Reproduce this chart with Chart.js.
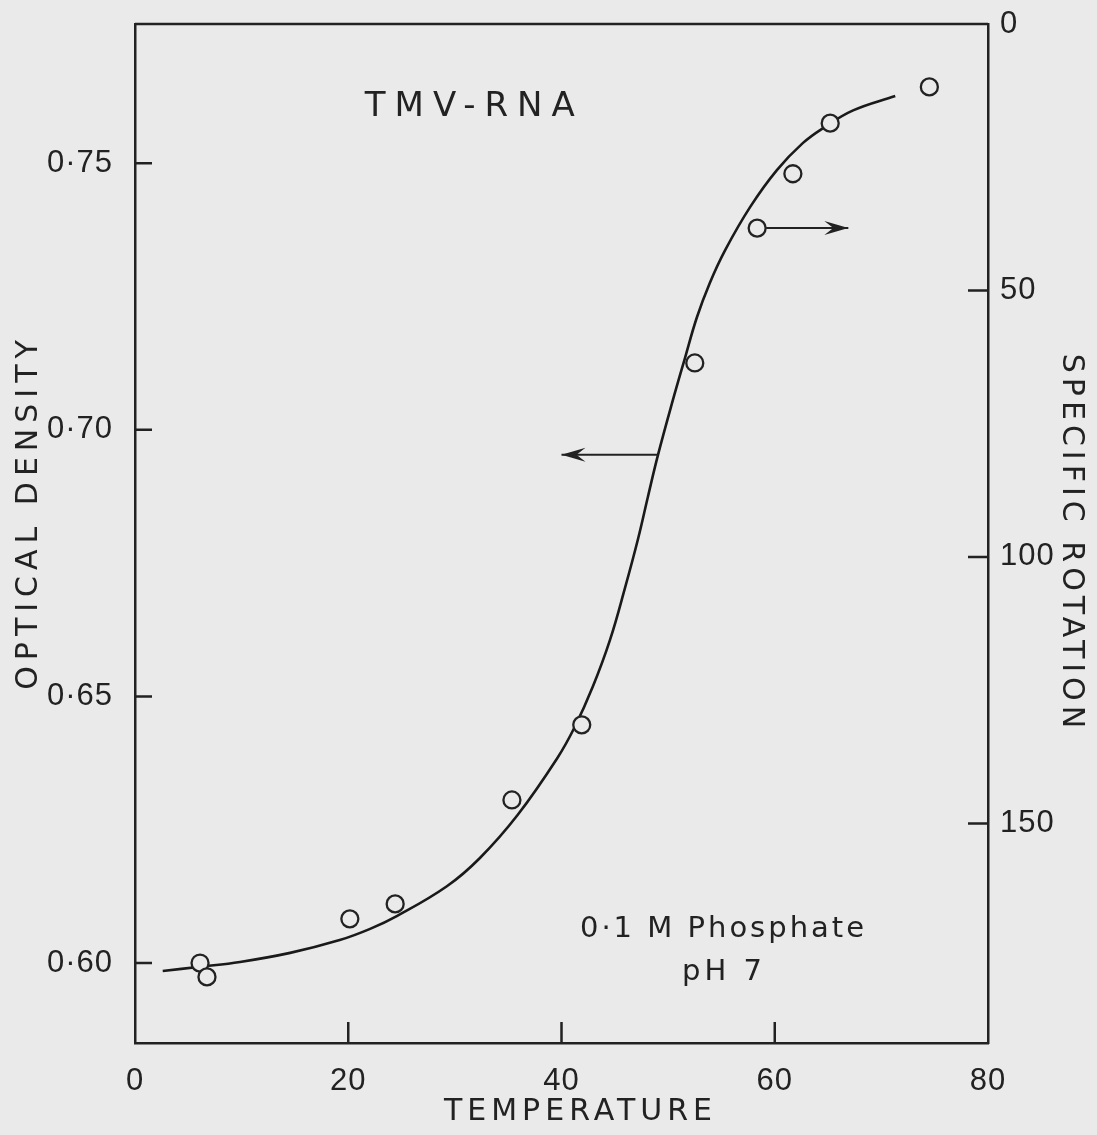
<!DOCTYPE html>
<html>
<head>
<meta charset="utf-8">
<title>TMV-RNA</title>
<script src="https://cdn.jsdelivr.net/npm/chart.js@4.4.1/dist/chart.umd.min.js"></script>
<style>
    html, body { margin: 0; padding: 0; background: #eaeaea; }
    #wrap { width: 1097px; height: 1135px; }
</style>
</head>
<body>
<div id="wrap"><canvas id="chart"></canvas></div>
<script>
// specific rotation readings (open circles, right axis)
const rotTemps = [6.1, 6.75, 20.15, 24.4, 35.35, 41.9, 52.5, 58.35, 61.7, 65.2, 74.5];
const rotValues = [176.2, 178.8, 167.9, 165.1, 145.6, 131.5, 63.6, 38.3, 28.1, 18.6, 11.8];

// optical density curve (left axis)
const curveTemps = [2.6, 6.1, 9.85, 14.55, 19.2, 22.05, 24.55, 29.25, 32.35, 35.9, 39.6, 41.25,
    42.95, 44.55, 45.95, 47.2, 48.1, 49.05, 50.45, 51.6, 52.7, 53.9, 55.35, 57.7, 60.2, 62.65,
    64.55, 67.35, 71.3];
const curveOD = [0.5985, 0.5993, 0.6002, 0.6019, 0.6043, 0.6064, 0.6088, 0.6144, 0.6197, 0.6278,
    0.6384, 0.6443, 0.6519, 0.6606, 0.6703, 0.6797, 0.6874, 0.6953, 0.7056, 0.7136, 0.7211,
    0.7275, 0.7337, 0.7418, 0.7487, 0.7538, 0.7566, 0.7599, 0.7626];

const tempTicks = [0, 20, 40, 60, 80];
const odTicks = [0.60, 0.65, 0.70, 0.75];
const rotTicks = [0, 50, 100, 150];

const INK = "#222";
const BG = "#eaeaea";
const FONT = '"DejaVu Sans", sans-serif';
const TICK_FONT = '"Liberation Sans", Arial, sans-serif';

function toPoints(xs, ys) {
    return xs.map((x, i) => ({ x: x, y: ys[i] }));
}

function label(ctx, text, px, py, size, spacing, rot) {
    ctx.save();
    ctx.translate(px, py);
    if (rot) ctx.rotate(rot);
    ctx.font = size + "px " + FONT;
    ctx.letterSpacing = spacing + "px";
    ctx.textAlign = "center";
    ctx.textBaseline = "middle";
    ctx.fillStyle = INK;
    ctx.fillText(text, spacing / 2, 0);
    ctx.restore();
}

function arrow(ctx, x1, y1, x2, y2) {
    const ang = Math.atan2(y2 - y1, x2 - x1);
    ctx.save();
    ctx.lineWidth = 2;
    ctx.beginPath();
    ctx.moveTo(x1, y1);
    ctx.lineTo(x2, y2);
    ctx.stroke();
    ctx.translate(x2, y2);
    ctx.rotate(ang);
    ctx.beginPath();
    ctx.moveTo(0, 0);
    ctx.lineTo(-24, -7);
    ctx.lineTo(-15, 0);
    ctx.lineTo(-24, 7);
    ctx.closePath();
    ctx.fill();
    ctx.restore();
}

const frame = {
    id: "frame",
    beforeDraw(chart) {
        chart.ctx.letterSpacing = "1px";
    },
    afterDraw(chart) {
        const { ctx, chartArea: a, scales } = chart;
        const { x, y, y2 } = scales;
        ctx.save();
        ctx.letterSpacing = "0px";
        ctx.strokeStyle = INK;
        ctx.fillStyle = INK;
        ctx.lineWidth = 2.5;

        // top border
        ctx.beginPath();
        ctx.moveTo(a.left, a.top);
        ctx.lineTo(a.right, a.top);
        ctx.stroke();

        // inward tick marks
        ctx.beginPath();
        odTicks.forEach((v) => {
            const py = y.getPixelForValue(v);
            ctx.moveTo(a.left, py);
            ctx.lineTo(a.left + 17, py);
        });
        rotTicks.slice(1).forEach((v) => {
            const py = y2.getPixelForValue(v);
            ctx.moveTo(a.right, py);
            ctx.lineTo(a.right - 20, py);
        });
        tempTicks.slice(1, -1).forEach((v) => {
            const px = x.getPixelForValue(v);
            ctx.moveTo(px, a.bottom);
            ctx.lineTo(px, a.bottom - 21);
        });
        ctx.stroke();

        // arrows: curve -> left axis, circles -> right axis
        const ay = y.getPixelForValue(0.6953);
        arrow(ctx, x.getPixelForValue(49.05), ay, x.getPixelForValue(40.0), ay);
        const by = y2.getPixelForValue(38.3);
        arrow(ctx, x.getPixelForValue(58.35) + 9, by, x.getPixelForValue(66.9), by);

        // annotations
        label(ctx, "TMV-RNA", x.getPixelForValue(31.4), y.getPixelForValue(0.7605), 34, 9);
        label(ctx, "0·1 M Phosphate", x.getPixelForValue(55.05), y.getPixelForValue(0.6063), 29, 3);
        label(ctx, "pH 7", x.getPixelForValue(55.05), y.getPixelForValue(0.5983), 29, 4);

        // axis titles
        label(ctx, "OPTICAL DENSITY", 29, 515, 30, 6, -Math.PI / 2);
        label(ctx, "SPECIFIC ROTATION", 1071, 541, 30, 5, Math.PI / 2);
        label(ctx, "TEMPERATURE", 578, 1112, 30, 5);
        ctx.restore();
    },
};

const tickFont = { family: TICK_FONT, size: 31 };

new Chart(document.getElementById("chart"), {
    type: "scatter",
    data: {
        datasets: [
            {
                label: "Specific rotation",
                data: toPoints(rotTemps, rotValues),
                yAxisID: "y2",
                pointStyle: "circle",
                pointRadius: 8.5,
                pointBorderWidth: 2.3,
                borderColor: INK,
                backgroundColor: BG,
            },
            {
                label: "Optical density",
                data: toPoints(curveTemps, curveOD),
                yAxisID: "y",
                showLine: true,
                pointRadius: 0,
                borderWidth: 2.6,
                borderColor: "#1a1a1a",
                tension: 0.4,
            },
        ],
    },
    options: {
        responsive: true,
        maintainAspectRatio: false,
        animation: false,
        layout: { padding: { top: 24, left: 0, right: 0, bottom: 0 } },
        plugins: {
            legend: { display: false },
            tooltip: { enabled: false },
        },
        scales: {
            x: {
                type: "linear",
                position: "bottom",
                min: 0,
                max: 80,
                afterBuildTicks: (s) => { s.ticks = tempTicks.map((v) => ({ value: v })); },
                afterFit: (s) => { s.height = 92; s.paddingLeft = 0; s.paddingRight = 0; },
                grid: { display: false },
                border: { display: true, color: INK, width: 2.5 },
                ticks: { font: tickFont, color: INK, padding: 12, maxRotation: 0 },
            },
            y: {
                type: "linear",
                position: "left",
                min: 0.585,
                max: 0.7761,
                afterBuildTicks: (s) => { s.ticks = odTicks.map((v) => ({ value: v })); },
                afterFit: (s) => { s.width = 135; s.paddingTop = 0; s.paddingBottom = 0; },
                grid: { display: false },
                border: { display: true, color: INK, width: 2.5 },
                ticks: {
                    font: tickFont,
                    color: INK,
                    padding: 14,
                    callback: (v) => v.toFixed(2).replace(".", "·"),
                },
            },
            y2: {
                type: "linear",
                position: "right",
                reverse: true,
                min: 0,
                max: 191.2,
                afterBuildTicks: (s) => { s.ticks = rotTicks.map((v) => ({ value: v })); },
                afterFit: (s) => { s.width = 109; s.paddingTop = 0; s.paddingBottom = 0; },
                grid: { display: false },
                border: { display: true, color: INK, width: 2.5 },
                ticks: { font: tickFont, color: INK, padding: 4 },
            },
        },
    },
    plugins: [frame],
});
</script>
</body>
</html>
